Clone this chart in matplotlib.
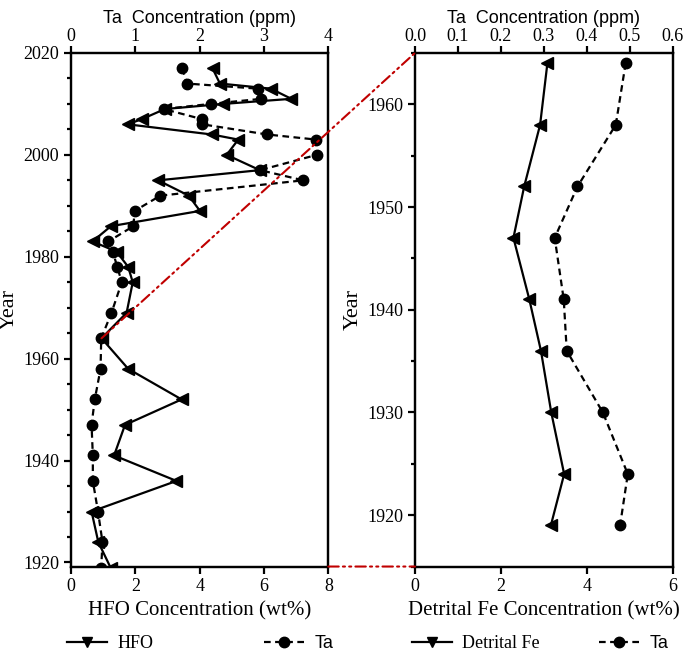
import matplotlib
matplotlib.use('Agg')
import matplotlib.pyplot as plt
from matplotlib.lines import Line2D
from matplotlib.patches import ConnectionPatch
from matplotlib.ticker import MultipleLocator, FormatStrFormatter

# left panel: HFO (wt%) and Ta (ppm) by year
years_left = [2017, 2014, 2013, 2011, 2010, 2009, 2007, 2006, 2004, 2003,
              2000, 1997, 1995, 1992, 1989, 1986, 1983, 1981, 1978, 1975,
              1969, 1964, 1958, 1952, 1947, 1941, 1936, 1930, 1924, 1919]
hfo = [4.40, 4.63, 6.21, 6.85, 4.73, 2.92, 2.20, 1.76, 4.38, 5.20,
       4.84, 5.87, 2.71, 3.66, 4.01, 1.24, 0.67, 1.42, 1.78, 1.92,
       1.73, 0.95, 1.78, 3.44, 1.68, 1.34, 3.28, 0.64, 0.85, 1.23]
ta_left = [1.73, 1.80, 2.90, 2.96, 2.17, 1.44, 2.04, 2.04, 3.05, 3.81,
           3.82, 2.94, 3.61, 1.39, 0.99, 0.97, 0.58, 0.65, 0.72, 0.79,
           0.63, 0.47, 0.46, 0.37, 0.32, 0.34, 0.34, 0.42, 0.49, 0.47]

# right panel: detrital Fe (wt%) and Ta (ppm)
years_right = [1964, 1958, 1952, 1947, 1941, 1936, 1930, 1924, 1919]
detrital_fe = [3.08, 2.91, 2.54, 2.29, 2.66, 2.93, 3.17, 3.47, 3.16]
ta_right = [0.490, 0.467, 0.378, 0.325, 0.346, 0.353, 0.437, 0.495, 0.477]

SERIF = 'Liberation Serif'
SANS = 'Liberation Sans'
plt.rcParams['font.family'] = SERIF
plt.rcParams['axes.linewidth'] = 1.6
for k in ['xtick.major.width', 'ytick.major.width',
          'xtick.minor.width', 'ytick.minor.width']:
    plt.rcParams[k] = 1.6
plt.rcParams['xtick.major.size'] = 5
plt.rcParams['ytick.major.size'] = 5
plt.rcParams['ytick.minor.size'] = 3
plt.rcParams['xtick.labelsize'] = 13
plt.rcParams['ytick.labelsize'] = 13

fig = plt.figure(figsize=(6.85, 6.58), dpi=100)
ax1 = fig.add_axes([0.1036, 0.139, 0.3757, 0.7805])
ax2 = fig.add_axes([0.6058, 0.139, 0.3766, 0.7805])

line_kw = dict(color='black', lw=1.6, ls='-', marker='<', ms=8.5)
dash_kw = dict(color='black', lw=1.6, ls=(0, (3, 2)), marker='o', ms=7.5)


def setup(ax, top, xmax, tmax, tstep, ylim, ymaj, xlabel):
    ax.set_xlim(0, xmax)
    ax.set_ylim(*ylim)
    ax.xaxis.set_major_locator(MultipleLocator(2))
    ax.yaxis.set_major_locator(MultipleLocator(ymaj))
    ax.yaxis.set_minor_locator(MultipleLocator(5))
    ax.tick_params(axis='x', pad=3)
    ax.set_xlabel(xlabel, fontsize=15, labelpad=5)
    ax.set_ylabel('Year', fontsize=16, labelpad=3)
    top.set_xlim(0, tmax)
    top.xaxis.set_major_locator(MultipleLocator(tstep))
    top.tick_params(axis='x', pad=1)
    top.set_xlabel('Ta  Concentration (ppm)', fontsize=13, family=SANS,
                   labelpad=3)


top1 = ax1.twiny()
ax1.plot(hfo, years_left, **line_kw)
top1.plot(ta_left, years_left, **dash_kw)
setup(ax1, top1, 8, 4, 1, (1919.2, 2020), 20, 'HFO Concentration (wt%)')

top2 = ax2.twiny()
ax2.plot(detrital_fe, years_right, **line_kw)
top2.plot(ta_right, years_right, **dash_kw)
setup(ax2, top2, 6, 0.6, 0.1, (1915, 1965), 10,
      'Detrital Fe Concentration (wt%)')
top2.xaxis.set_major_formatter(FormatStrFormatter('%.1f'))

# red zoom connectors between the panels
red = '#c00000'
dashdot = (0, (5, 2, 1, 2, 1, 2))
i64 = years_left.index(1964)
con1 = ConnectionPatch(xyA=(hfo[i64], years_left[i64]), coordsA=ax1.transData,
                       xyB=(0, 1), coordsB=ax2.transAxes,
                       color=red, lw=1.5, ls=dashdot)
con2 = ConnectionPatch(xyA=(1, 0), coordsA=ax1.transAxes,
                       xyB=(0, 0), coordsB=ax2.transAxes,
                       color=red, lw=1.5, ls=dashdot)
fig.add_artist(con1)
fig.add_artist(con2)

# legends underneath
tri = Line2D([], [], color='black', lw=1.6, marker='v', ms=7.5)
dot = Line2D([], [], color='black', lw=1.6, ls=(0, (3, 2)), marker='o', ms=7.5)
entries = [(tri, 'HFO', SERIF, 0.085), (dot, 'Ta', SANS, 0.372),
           (tri, 'Detrital Fe', SERIF, 0.588), (dot, 'Ta', SANS, 0.862)]
for h, lab, fam, x in entries:
    leg = fig.legend([h], [lab], loc='center left', bbox_to_anchor=(x, 0.022),
                     frameon=False, fontsize=13, handlelength=2.2,
                     borderpad=0, handletextpad=0.6)
    leg.get_texts()[0].set_fontfamily(fam)

fig.savefig('out.png', dpi=100)
